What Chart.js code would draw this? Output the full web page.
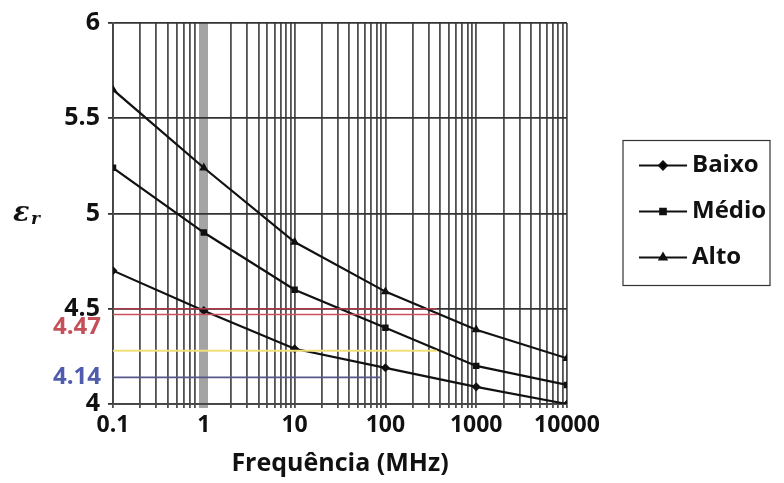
<!DOCTYPE html>
<html>
<head>
<meta charset="utf-8">
<script src="https://cdn.jsdelivr.net/npm/chart.js@4/dist/chart.umd.min.js"></script>
<style>
  html, body { margin: 0; padding: 0; background: #fff; }
  #wrap { position: relative; width: 784px; height: 483px; }
</style>
</head>
<body>
<div id="wrap"><canvas id="chart" width="784" height="483"></canvas></div>
<script>
// Frequency points (MHz)
const freqs = [0.1, 1, 10, 100, 1000, 10000];

// Permittivity per series
const baixo = [4.70, 4.49, 4.29, 4.19, 4.09, 4.00];
const medio = [5.24, 4.90, 4.60, 4.40, 4.20, 4.10];
const alto  = [5.65, 5.24, 4.85, 4.59, 4.39, 4.24];

// Horizontal reference lines: [x start, x end] and level
const refRange = [0.1, 370];
const redLevels = [4.5, 4.47];
const yellowLevel = 4.28;
const blueRange = [0.1, 90];
const blueLevel = 4.14;

// Axis ticks
const xTickLabels = [0.1, 1, 10, 100, 1000, 10000];
const xMinorSteps = [2, 3, 4, 5, 6, 7, 8, 9];
const yTickLabels = [4, 4.5, 5, 5.5, 6];

// Highlighted values written next to the y axis
const markLabels = ['4.47', '4.14'];
const markValues = [4.47, 4.14];
const markColors = ['#c4505a', '#4f5cae'];

function pts(ys) {
    return freqs.map((f, i) => ({ x: f, y: ys[i] }));
}
function flat(range, level) {
    return range.map(x => ({ x: x, y: level }));
}

const seriesStyle = {
    borderColor: '#111',
    backgroundColor: '#111',
    borderWidth: 2.2,
    pointRadius: 3,
    pointHoverRadius: 3,
    tension: 0
};
const refStyle = { pointRadius: 0, borderWidth: 1.6, tension: 0 };

// Legend drawn as a framed box to the right of the plot
const boxLegend = {
    id: 'boxLegend',
    afterDraw(chart) {
        const ctx = chart.ctx;
        const area = chart.chartArea;
        const left = area.right + 56;
        const top = (area.top + area.bottom) / 2 - 73;
        ctx.save();
        ctx.strokeStyle = '#333';
        ctx.lineWidth = 1.2;
        ctx.strokeRect(left, top, 147, 145);
        const items = chart.data.datasets.filter(d => d.inLegend);
        items.forEach((d, i) => {
            const y = top + 25 + i * 46;
            ctx.strokeStyle = '#111';
            ctx.lineWidth = 2;
            ctx.beginPath();
            ctx.moveTo(left + 16, y);
            ctx.lineTo(left + 64, y);
            ctx.stroke();
            Chart.helpers.drawPoint(ctx, {
                pointStyle: d.pointStyle, radius: 4, borderWidth: 1
            }, left + 40, y);
            ctx.fillStyle = '#111';
            ctx.font = 'bold 24px "Open Sans"';
            ctx.textBaseline = 'middle';
            ctx.textAlign = 'left';
            ctx.fillText(d.label, left + 69, y);
        });
        ctx.restore();
    }
};

// Coloured value labels and the epsilon_r axis name
const sideLabels = {
    id: 'sideLabels',
    afterDraw(chart) {
        const ctx = chart.ctx;
        const y = chart.scales.y;
        const area = chart.chartArea;
        ctx.save();
        ctx.textAlign = 'right';
        ctx.textBaseline = 'middle';
        ctx.font = 'bold 24px "Open Sans"';
        markValues.forEach((v, i) => {
            // 4.47 sits just under the 4.5 label in the original
            const shift = i === 0 ? 13 : 0;
            ctx.fillStyle = markColors[i];
            ctx.fillText(markLabels[i], area.left - 12, y.getPixelForValue(v) + shift);
        });
        const ey = y.getPixelForValue(5);
        ctx.fillStyle = '#111';
        ctx.textAlign = 'left';
        ctx.font = 'bold italic 27px "DejaVu Serif"';
        ctx.fillText('\u03b5', 13, ey);
        ctx.font = 'bold italic 17px "DejaVu Serif"';
        ctx.fillText('r', 31, ey + 6);
        ctx.restore();
    }
};

new Chart(document.getElementById('chart').getContext('2d'), {
    type: 'line',
    data: {
        datasets: [
            { label: 'Vermelho', data: flat(refRange, redLevels[0]), borderColor: '#a83848', ...refStyle },
            { label: 'Vermelho 2', data: flat(refRange, redLevels[1]), borderColor: '#c9505c', ...refStyle },
            { label: 'Amarelo', data: flat(refRange, yellowLevel), borderColor: '#efe07a', ...refStyle, borderWidth: 2 },
            { label: 'Azul', data: flat(blueRange, blueLevel), borderColor: '#56588a', ...refStyle },
            { label: 'Baixo', data: pts(baixo), pointStyle: 'rectRot', inLegend: true, ...seriesStyle },
            { label: 'Médio', data: pts(medio), pointStyle: 'rect', inLegend: true, ...seriesStyle },
            { label: 'Alto', data: pts(alto), pointStyle: 'triangle', inLegend: true, ...seriesStyle }
        ]
    },
    options: {
        responsive: false,
        animation: false,
        layout: { padding: { top: 17, right: 217, left: 0, bottom: 0 } },
        plugins: {
            legend: { display: false },
            tooltip: { enabled: false }
        },
        scales: {
            x: {
                type: 'logarithmic',
                min: 0.1,
                max: 10000,
                afterBuildTicks(scale) {
                    const vals = [];
                    xTickLabels.forEach((d, i) => {
                        vals.push(d);
                        if (i < xTickLabels.length - 1) {
                            xMinorSteps.forEach(m => vals.push(d * m));
                        }
                    });
                    scale.ticks = vals.map(v => ({ value: v }));
                },
                afterFit(scale) { scale.height = 79; },
                ticks: {
                    autoSkip: false,
                    maxRotation: 0,
                    minRotation: 0,
                    color: '#111',
                    font: { family: 'Open Sans', size: 23, weight: 'bold' },
                    padding: 4,
                    callback: v => xTickLabels.includes(v) ? String(v) : ''
                },
                grid: {
                    color: c => (c.tick && c.tick.value === 1) ? '#a4a4a4' : '#505050',
                    lineWidth: c => (c.tick && c.tick.value === 1) ? 9 : 1.8,
                    tickLength: 4
                },
                border: { color: '#444', width: 1.8 },
                title: {
                    display: true,
                    text: 'Frequência (MHz)',
                    color: '#111',
                    font: { family: 'Open Sans', size: 25, weight: 'bold' },
                    padding: { top: 2 }
                }
            },
            y: {
                min: 4,
                max: 6,
                afterBuildTicks(scale) {
                    scale.ticks = yTickLabels.map(v => ({ value: v }));
                },
                afterFit(scale) { scale.width = 113; },
                ticks: {
                    color: '#111',
                    font: { family: 'Open Sans', size: 25, weight: 'bold' },
                    padding: 8,
                    callback: v => String(v)
                },
                grid: { color: '#333', lineWidth: 1.8, tickLength: 5 },
                border: { color: '#444', width: 1.8 }
            }
        }
    },
    plugins: [boxLegend, sideLabels]
});
</script>
</body>
</html>
